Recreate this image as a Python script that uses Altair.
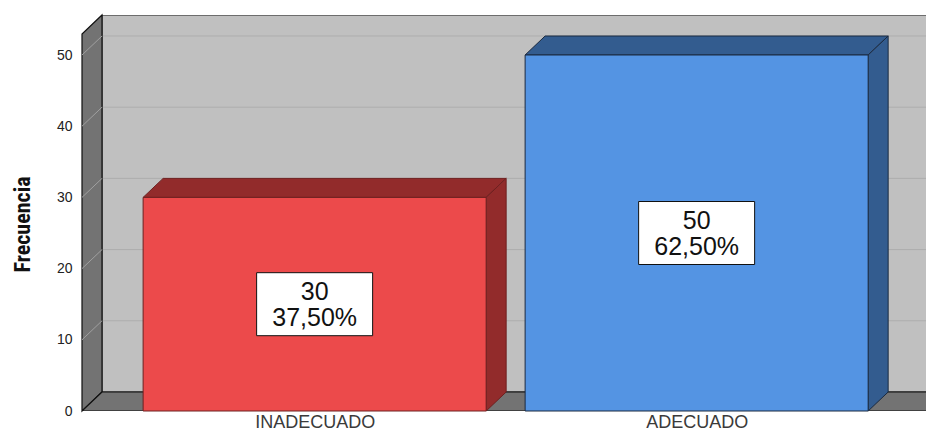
import json
import altair as alt
import pandas as pd

# ---------------- data ----------------
categories = ["INADECUADO", "ADECUADO"]
counts = [30, 50]
percents = [37.5, 62.5]
front_colors = ["#EC4A4B", "#5494E3"]
shade_colors = ["#922B2B", "#335C8F"]
edge_colors = ["#6E2020", "#1B2A40"]
y_ticks = [0, 10, 20, 30, 40, 50]

# ---------------- layout constants ----------------
PX_X = 382.0      # pixels per category step
PX_Y = 7.12       # pixels per count unit
DEPTH_PX_X = 20
DEPTH_PX_Y = 19
PLOT_W = 844
PLOT_H = 396
X_LEFT = -0.609
X_RIGHT = 1.611
BAR_HALF = 0.449
BOX_W_PX = 116
BOX_H_PX = 63

dx = DEPTH_PX_X / PX_X
dy = DEPTH_PX_Y / PX_Y
y_max = PLOT_H / PX_Y
x_max = X_LEFT + PLOT_W / PX_X
wall_top = y_max - dy

xs = alt.Scale(domain=[X_LEFT, x_max], nice=False, zero=False)
ys = alt.Scale(domain=[0, y_max], nice=False, zero=False)

FONT = "Liberation Sans, Arial, sans-serif"
TITLE_FONT = "Liberation Sans Narrow, Arial Narrow, Roboto Condensed, Liberation Sans, sans-serif"

label_expr = json.dumps(categories) + "[round(datum.value)]"

X_AXIS = alt.Axis(values=[0, 1], labelExpr=label_expr, title=None, domain=False,
                  ticks=False, tickSize=0, grid=False, labelPadding=2,
                  labelFont=FONT, labelFontSize=18, labelColor="#3a3a3a")
Y_AXIS = alt.Axis(values=y_ticks, title="Frecuencia", domain=False, ticks=False,
                  tickSize=0, grid=False, labelPadding=10, labelFont=FONT,
                  labelFontSize=14, labelColor="#222222",
                  titleFont=TITLE_FONT, titleFontSize=22, titleFontWeight="bold",
                  titleColor="#111111", titleAngle=270, titleX=-60, titleY=209,
                  titleAlign="center", titleBaseline="middle")


def X(field="x"):
    return alt.X(f"{field}:Q", scale=xs, axis=X_AXIS)


def Y(field="y"):
    return alt.Y(f"{field}:Q", scale=ys, axis=Y_AXIS)


# ---------------- walls ----------------
back_df = pd.DataFrame([{"x": X_LEFT + dx, "x2": X_RIGHT + dx, "y": dy, "y2": y_max}])
back = alt.Chart(back_df).mark_rect(fill="#C0C0C0", stroke="#1a1a1a", strokeWidth=1, clip=True).encode(
    x=X(), x2="x2:Q", y=Y(), y2="y2:Q",
)

grid_df = pd.DataFrame({"y": [t + dy for t in y_ticks[1:]],
                        "x": X_LEFT + dx, "x2": X_RIGHT + dx})
grid = alt.Chart(grid_df).mark_rule(color="#ADADAD", strokeWidth=1, clip=True).encode(
    x=X(), x2="x2:Q", y=Y(),
)

left_df = pd.DataFrame([{"x": X_LEFT, "y": 0, "y2": wall_top},
                        {"x": X_LEFT + dx, "y": dy, "y2": y_max}])
left_wall = alt.Chart(left_df).mark_area(fill="#737373", stroke="#111111", strokeWidth=1.2).encode(
    x=X(), y=Y(), y2="y2:Q",
)

diag_df = pd.DataFrame({"x": X_LEFT, "x2": X_LEFT + dx,
                        "y": y_ticks[1:], "y2": [t + dy for t in y_ticks[1:]]})
diag = alt.Chart(diag_df).mark_rule(color="#A0A0A0", strokeWidth=1).encode(
    x=X(), x2="x2:Q", y=Y(), y2="y2:Q",
)

floor_df = pd.DataFrame([{"y": 0, "x": X_LEFT, "x2": X_RIGHT},
                         {"y": dy, "x": X_LEFT + dx, "x2": X_RIGHT + dx}])
floor = alt.Chart(floor_df).mark_area(orient="horizontal", fill="#737373", stroke="#111111",
                                      strokeWidth=1.2, clip=True).encode(
    y=Y(), x=X(), x2="x2:Q",
)

# ---------------- bars ----------------
front_rows, top_rows, side_rows, box_rows, text_rows = [], [], [], [], []
for i, (cat, v) in enumerate(zip(categories, counts)):
    c = float(i)
    front_rows.append({"x": c - BAR_HALF, "x2": c + BAR_HALF, "y": 0, "y2": v,
                       "fill": front_colors[i], "edge": edge_colors[i]})
    top_rows += [{"face": i, "y": v, "x": c - BAR_HALF, "x2": c + BAR_HALF,
                  "fill": shade_colors[i], "edge": edge_colors[i]},
                 {"face": i, "y": v + dy, "x": c - BAR_HALF + dx, "x2": c + BAR_HALF + dx,
                  "fill": shade_colors[i], "edge": edge_colors[i]}]
    side_rows += [{"face": i, "x": c + BAR_HALF, "y": 0, "y2": v,
                   "fill": shade_colors[i], "edge": edge_colors[i]},
                  {"face": i, "x": c + BAR_HALF + dx, "y": dy, "y2": v + dy,
                   "fill": shade_colors[i], "edge": edge_colors[i]}]
    bw = BOX_W_PX / 2 / PX_X
    bh = BOX_H_PX / 2 / PX_Y
    box_rows.append({"x": c - bw, "x2": c + bw, "y": v / 2 - bh, "y2": v / 2 + bh})
    pct = f"{percents[i]:.2f}%".replace(".", ",")
    text_rows.append({"x": c, "y": v / 2, "label": f"{v}\n{pct}"})

top = alt.Chart(pd.DataFrame(top_rows)).mark_area(orient="horizontal", strokeWidth=1).encode(
    y=Y(), x=X(), x2="x2:Q",
    detail="face:N",
    fill=alt.Fill("fill:N", scale=None),
    stroke=alt.Stroke("edge:N", scale=None),
)

side = alt.Chart(pd.DataFrame(side_rows)).mark_area(strokeWidth=1).encode(
    x=X(), y=Y(), y2="y2:Q",
    detail="face:N",
    fill=alt.Fill("fill:N", scale=None),
    stroke=alt.Stroke("edge:N", scale=None),
)

front = alt.Chart(pd.DataFrame(front_rows)).mark_rect(strokeWidth=1).encode(
    x=X(), x2="x2:Q", y=Y(), y2="y2:Q",
    fill=alt.Fill("fill:N", scale=None),
    stroke=alt.Stroke("edge:N", scale=None),
)

boxes = alt.Chart(pd.DataFrame(box_rows)).mark_rect(fill="white", stroke="#111111", strokeWidth=1).encode(
    x=X(), x2="x2:Q", y=Y(), y2="y2:Q",
)

texts = alt.Chart(pd.DataFrame(text_rows)).mark_text(
    font=FONT, fontSize=25, lineBreak="\n", lineHeight=26, color="#111111",
    align="center", baseline="middle", dy=-12,
).encode(
    x=X(), y=Y(), text="label:N",
)

chart = alt.layer(back, grid, left_wall, diag, floor, top, side, front, boxes, texts).properties(
    width=PLOT_W, height=PLOT_H,
    autosize=alt.AutoSizeParams(type="none"),
    padding={"left": 74, "top": 7, "right": 0, "bottom": 20},
    background="white",
).configure_view(stroke=None)

chart.save("out.html", embed_options={"renderer": "svg", "actions": False})
